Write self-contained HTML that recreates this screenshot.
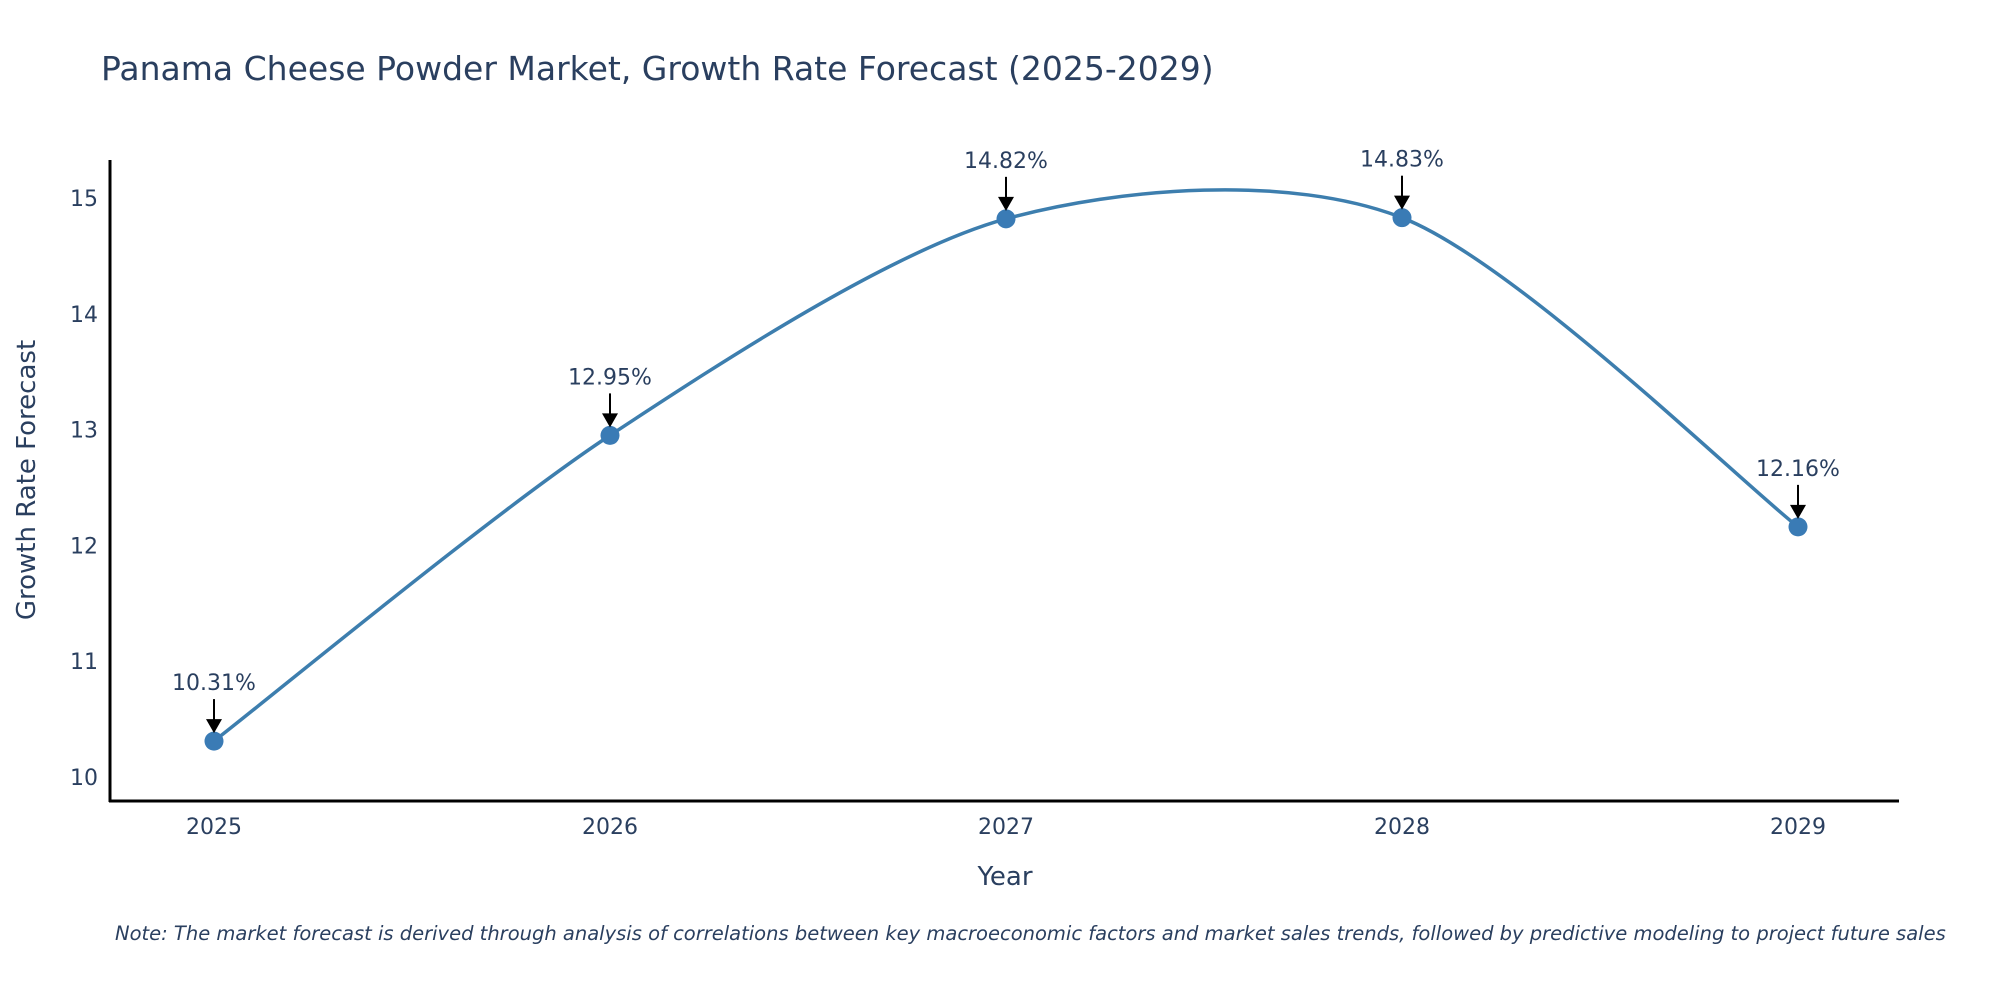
<!DOCTYPE html>
<html><head><meta charset="utf-8"><style>
body{margin:0;background:#fff;}
svg text{font-family:"DejaVu Sans","Liberation Sans",sans-serif;fill:#2a3f5f;}
</style></head><body>
<svg id="chart" width="2000" height="1000" xmlns="http://www.w3.org/2000/svg">
<text x="101" y="80" font-size="33">Panama Cheese Powder Market, Growth Rate Forecast (2025-2029)</text>
<g id="yticks"></g><g id="xticks"></g>
<path id="line" fill="none" stroke="#3d7eae" stroke-width="3.5"/>
<g id="points"></g><g id="annots"></g>
<line x1="110" y1="160" x2="110" y2="802" stroke="#000" stroke-width="3"/>
<line x1="109" y1="801" x2="1899" y2="801" stroke="#000" stroke-width="3"/>
<text transform="translate(35,480) rotate(-90)" text-anchor="middle" font-size="26">Growth Rate Forecast</text>
<text x="1005" y="885" text-anchor="middle" font-size="26">Year</text>
<text x="115" y="940" font-size="19.5" font-style="italic">Note: The market forecast is derived through analysis of correlations between key macroeconomic factors and market sales trends, followed by predictive modeling to project future sales</text>
</svg>
<script>
const categories=["2025","2026","2027","2028","2029"];
const values=[10.31,12.95,14.82,14.83,12.16];
const yTicks=[10,11,12,13,14,15];
const NS="http://www.w3.org/2000/svg";
function xs(i){return 214+i*396;}
function ys(v){return 777-(v-10)*115.8;}
function mk(t,a){const e=document.createElementNS(NS,t);for(const k in a)e.setAttribute(k,a[k]);return e;}
const yg=document.getElementById('yticks');
yTicks.forEach(v=>{const t=mk('text',{x:98,y:ys(v)+8,'text-anchor':'end','font-size':'22'});t.textContent=v;


yg.appendChild(t);});
const xg=document.getElementById('xticks');
categories.forEach((c,i)=>{const t=mk('text',{x:xs(i),y:834,'text-anchor':'middle','font-size':'22'});t.textContent=c;


xg.appendChild(t);});
const P=values.map((v,i)=>[xs(i),ys(v)]);
let d='M'+P[0][0]+','+P[0][1];
const k=7;
for(let i=0;i<P.length-1;i++){const p0=P[Math.max(0,i-1)],p1=P[i],p2=P[i+1],p3=P[Math.min(P.length-1,i+2)];
const c1=[p1[0]+(p2[0]-p0[0])/k,p1[1]+(p2[1]-p0[1])/k],c2=[p2[0]-(p3[0]-p1[0])/k,p2[1]-(p3[1]-p1[1])/k];
d+=' C'+c1+' '+c2+' '+p2;}
document.getElementById('line').setAttribute('d',d);
const pg=document.getElementById('points'),ag=document.getElementById('annots');
values.forEach((v,i)=>{const x=xs(i),y=ys(v);
const c=mk('circle',{cx:x,cy:y,r:9.5,fill:'#3a7bb5'});


pg.appendChild(c);
const l=mk('line',{x1:x,y1:y-42,x2:x,y2:y-20,stroke:'#000','stroke-width':'2'});


ag.appendChild(l);
const h=mk('polygon',{points:(x-8)+','+(y-22)+' '+(x+8)+','+(y-22)+' '+x+','+(y-8),fill:'#000'});


ag.appendChild(h);
const t=mk('text',{x:x,y:y-51,'text-anchor':'middle','font-size':'22'});t.textContent=v.toFixed(2)+'%';


ag.appendChild(t);});
</script>
</body></html>
